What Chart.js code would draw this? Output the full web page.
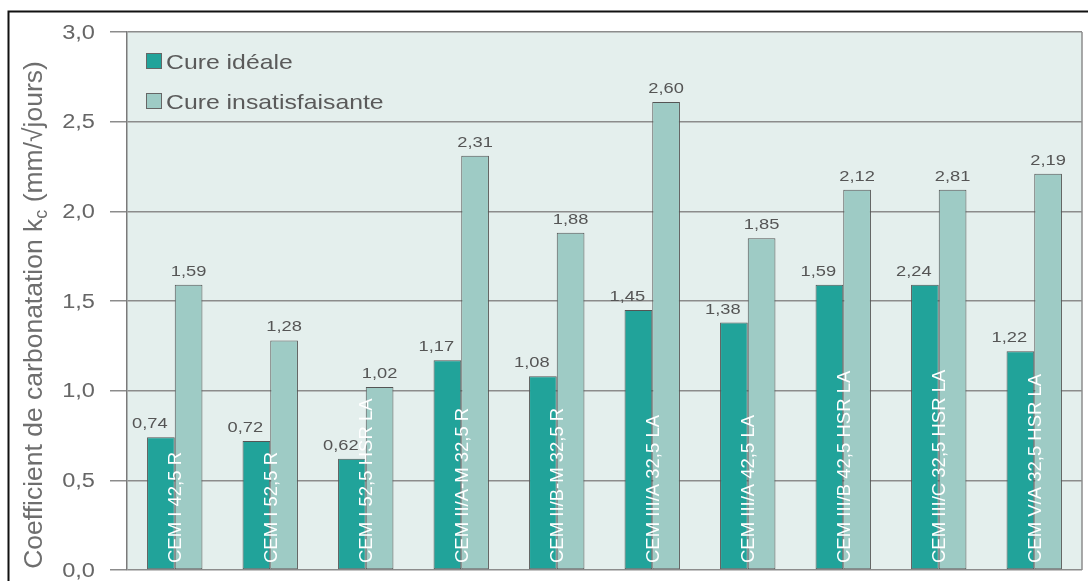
<!DOCTYPE html>
<html>
<head>
<meta charset="utf-8">
<script src="https://cdn.jsdelivr.net/npm/chart.js@4.4.1/dist/chart.umd.min.js"></script>
<style>
  html, body { margin: 0; padding: 0; background: #ffffff; }
  #wrap { width: 1088px; height: 581px; position: relative; }
</style>
</head>
<body>
<div id="wrap"><canvas id="c" width="1088" height="581"></canvas></div>
<script>
// ---- Data ----
const categories = [
  "CEM I 42,5 R", "CEM I 52,5 R", "CEM I 52,5 HSR LA", "CEM II/A-M 32,5 R",
  "CEM II/B-M 32,5 R", "CEM III/A 32,5 LA", "CEM III/A 42,5 LA",
  "CEM III/B 42,5 HSR LA", "CEM III/C 32,5 HSR LA", "CEM V/A 32,5 HSR LA"
];
const seriesNames = ["Cure idéale", "Cure insatisfaisante"];
// bar heights as drawn in the figure
const cureIdeale = [0.74, 0.72, 0.62, 1.17, 1.08, 1.45, 1.38, 1.59, 1.59, 1.22];
const cureInsat  = [1.59, 1.28, 1.02, 2.31, 1.88, 2.61, 1.85, 2.12, 2.12, 2.21];
// value labels as printed in the figure
const labelsIdeale = ["0,74", "0,72", "0,62", "1,17", "1,08", "1,45", "1,38", "1,59", "2,24", "1,22"];
const labelsInsat  = ["1,59", "1,28", "1,02", "2,31", "1,88", "2,60", "1,85", "2,12", "2,81", "2,19"];
const yTicks = [0, 0.5, 1.0, 1.5, 2.0, 2.5, 3.0];
const yTitleMain = "Coefficient de carbonatation k";
const yTitleSub = "c";
const yTitleEnd = " (mm/\u221Ajours)";

const FONT = '"Liberation Sans", Arial, Helvetica, sans-serif';
const COL_DARK = '#21a39a';
const COL_LIGHT = '#9ecbc5';
const HS = 1.18; // horizontal text widening

function hText(ctx, text, x, y, size, color, align, baseline) {
  ctx.save();
  ctx.font = size + 'px ' + FONT;
  ctx.fillStyle = color;
  ctx.textAlign = align;
  ctx.textBaseline = baseline;
  ctx.translate(x, y);
  ctx.scale(HS, 1);
  ctx.fillText(text, 0, 0);
  ctx.restore();
}

const decor = {
  id: 'decor',
  beforeDraw(chart) {
    const ctx = chart.ctx, a = chart.chartArea;
    ctx.save();
    ctx.fillStyle = '#ffffff';
    ctx.fillRect(0, 0, chart.width, chart.height);
    ctx.fillStyle = '#e4efed';
    ctx.fillRect(a.left, a.top, a.right - a.left, a.bottom - a.top);
    // outer frame
    ctx.strokeStyle = '#111';
    ctx.lineWidth = 2;
    ctx.beginPath();
    ctx.moveTo(8.5, chart.height);
    ctx.lineTo(8.5, 11.5);
    ctx.lineTo(chart.width, 11.5);
    ctx.stroke();
    ctx.restore();
  },
  afterDatasetsDraw(chart) {
    const ctx = chart.ctx, a = chart.chartArea;
    // right border of plot
    ctx.save();
    ctx.strokeStyle = '#8c8c8c';
    ctx.lineWidth = 1.5;
    ctx.beginPath();
    ctx.moveTo(a.right, a.top);
    ctx.lineTo(a.right, a.bottom);
    ctx.stroke();
    ctx.restore();

    const m0 = chart.getDatasetMeta(0), m1 = chart.getDatasetMeta(1);
    // value labels
    m0.data.forEach((bar, i) => {
      hText(ctx, labelsIdeale[i], bar.x - 11, bar.y - 9, 15.5, '#555', 'center', 'alphabetic');
    });
    m1.data.forEach((bar, i) => {
      hText(ctx, labelsInsat[i], bar.x, bar.y - 9, 15.5, '#555', 'center', 'alphabetic');
    });
    // category labels inside bars (rotated)
    const xs = chart.scales.x;
    categories.forEach((cat, i) => {
      const cx = xs.getPixelForValue(i);
      ctx.save();
      ctx.translate(cx + 6.5, a.bottom - 7);
      ctx.rotate(-Math.PI / 2);
      ctx.font = '18.5px ' + FONT;
      ctx.fillStyle = '#ffffff';
      ctx.textAlign = 'left';
      ctx.textBaseline = 'alphabetic';
      ctx.fillText(cat, 0, 0);
      ctx.restore();
    });
  },
  afterDraw(chart) {
    const ctx = chart.ctx, a = chart.chartArea;
    const ys = chart.scales.y;
    // y tick labels
    yTicks.forEach(v => {
      const y = ys.getPixelForValue(v);
      hText(ctx, v.toFixed(1).replace('.', ','), 95, y + 1, 20, '#666', 'right', 'middle');
    });
    // y axis title with subscript
    ctx.save();
    ctx.translate(42, 315);
    ctx.rotate(-Math.PI / 2);
    ctx.fillStyle = '#6e6e6e';
    ctx.textBaseline = 'alphabetic';
    const big = '26.5px ' + FONT, small = '18px ' + FONT;
    ctx.font = big;
    const w1 = ctx.measureText(yTitleMain).width;
    const w3 = ctx.measureText(yTitleEnd).width;
    ctx.font = small;
    const w2 = ctx.measureText(yTitleSub).width;
    let x = -(w1 + w2 + w3) / 2;
    ctx.textAlign = 'left';
    ctx.font = big;
    ctx.fillText(yTitleMain, x, 0);
    x += w1;
    ctx.font = small;
    ctx.fillText(yTitleSub, x, 5);
    x += w2;
    ctx.font = big;
    ctx.fillText(yTitleEnd, x, 0);
    ctx.restore();
    // legend
    const rows = [[seriesNames[0], COL_DARK, 53], [seriesNames[1], COL_LIGHT, 93]];
    rows.forEach(r => {
      ctx.save();
      ctx.fillStyle = r[1];
      ctx.fillRect(146, r[2], 16, 16);
      ctx.strokeStyle = '#666';
      ctx.lineWidth = 1;
      ctx.strokeRect(146.5, r[2] + 0.5, 15, 15);
      ctx.restore();
      hText(ctx, r[0], 166, r[2] + 16, 21, '#5a5a5a', 'left', 'alphabetic');
    });
  }
};

new Chart(document.getElementById('c'), {
  type: 'bar',
  data: {
    labels: categories,
    datasets: [
      { label: seriesNames[0], data: cureIdeale, backgroundColor: COL_DARK, borderColor: '#555', borderWidth: 1, borderSkipped: false },
      { label: seriesNames[1], data: cureInsat, backgroundColor: COL_LIGHT, borderColor: '#555', borderWidth: 1, borderSkipped: false }
    ]
  },
  options: {
    responsive: false,
    animation: false,
    devicePixelRatio: 1,
    layout: { padding: { left: 0, top: 32, right: 6, bottom: 11 } },
    datasets: { bar: { categoryPercentage: 0.58, barPercentage: 1.0 } },
    plugins: { legend: { display: false }, tooltip: { enabled: false }, title: { display: false } },
    scales: {
      x: { display: false },
      y: {
        min: 0, max: 3,
        afterFit(scale) { scale.width = 127; },
        afterBuildTicks(scale) { scale.ticks = yTicks.map(v => ({ value: v })); },
        ticks: { display: false },
        grid: { color: '#8c8c8c', lineWidth: 1.5, drawTicks: true, tickLength: 17 },
        border: { display: true, color: '#7a7a7a', width: 1.5 }
      }
    }
  },
  plugins: [decor]
});
</script>
</body>
</html>
